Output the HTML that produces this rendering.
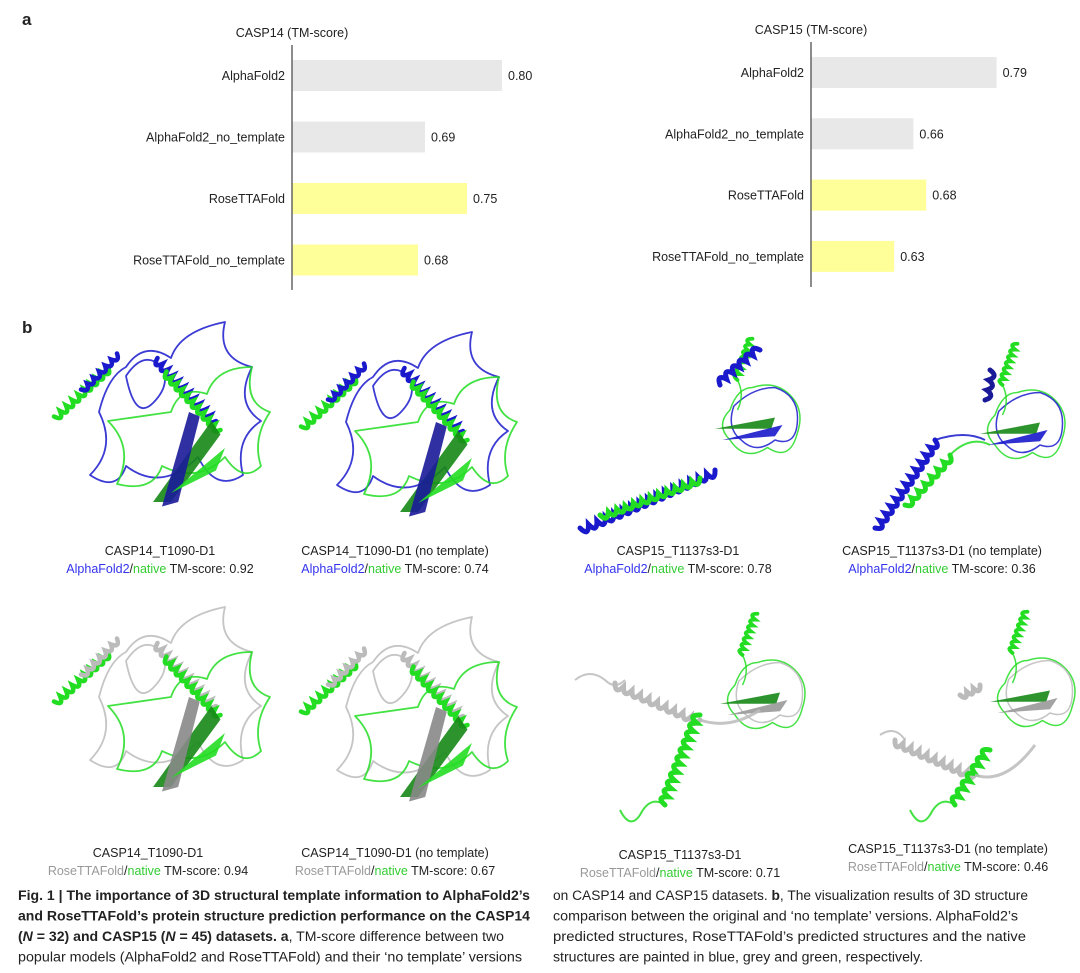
<!DOCTYPE html>
<html><head><meta charset="utf-8">
<style>
body{margin:0;background:#fff;font-family:"Liberation Sans",sans-serif;}
#root{position:relative;width:1080px;height:973px;overflow:hidden;background:#fff;}
.t{position:absolute;white-space:nowrap;color:#222;}
.lab{font-size:12.5px;line-height:18px;text-align:center;}
.b{color:#3333ee}.g{color:#33cc33}.gr{color:#999}
</style></head><body>
<div id="root">
<div class="t" style="left:22px;top:10px;font-weight:bold;font-size:17px">a</div>
<div class="t" style="left:22px;top:318px;font-weight:bold;font-size:17px">b</div>
<svg id="chart" width="1080" height="300" style="position:absolute;left:0;top:0"></svg>
<svg id="prot" width="1080" height="840" style="position:absolute;left:0;top:0"></svg>

<div class="t lab" style="left:40px;top:542px;width:240px">CASP14_T1090-D1<br><span class="b">AlphaFold2</span>/<span class="g">native</span> TM-score: 0.92</div>
<div class="t lab" style="left:275px;top:542px;width:240px">CASP14_T1090-D1 (no template)<br><span class="b">AlphaFold2</span>/<span class="g">native</span> TM-score: 0.74</div>
<div class="t lab" style="left:558px;top:542px;width:240px">CASP15_T1137s3-D1<br><span class="b">AlphaFold2</span>/<span class="g">native</span> TM-score: 0.78</div>
<div class="t lab" style="left:822px;top:542px;width:240px">CASP15_T1137s3-D1 (no template)<br><span class="b">AlphaFold2</span>/<span class="g">native</span> TM-score: 0.36</div>
<div class="t lab" style="left:28px;top:844px;width:240px">CASP14_T1090-D1<br><span class="gr">RoseTTAFold</span>/<span class="g">native</span> TM-score: 0.94</div>
<div class="t lab" style="left:275px;top:844px;width:240px">CASP14_T1090-D1 (no template)<br><span class="gr">RoseTTAFold</span>/<span class="g">native</span> TM-score: 0.67</div>
<div class="t lab" style="left:560px;top:846px;width:240px">CASP15_T1137s3-D1<br><span class="gr">RoseTTAFold</span>/<span class="g">native</span> TM-score: 0.71</div>
<div class="t lab" style="left:828px;top:840px;width:240px">CASP15_T1137s3-D1 (no template)<br><span class="gr">RoseTTAFold</span>/<span class="g">native</span> TM-score: 0.46</div>

<svg width="1080" height="100" style="position:absolute;left:0;top:878px" font-family="Liberation Sans" font-size="13.5" fill="#222">
<text x="18" y="22" textLength="512" lengthAdjust="spacingAndGlyphs" font-weight="bold">Fig. 1 | The importance of 3D structural template information to AlphaFold2’s</text>
<text x="18" y="42.5" textLength="512" lengthAdjust="spacingAndGlyphs" font-weight="bold">and RoseTTAFold’s protein structure prediction performance on the CASP14</text>
<text x="18" y="63" textLength="486" lengthAdjust="spacingAndGlyphs"><tspan font-weight="bold">(<tspan font-style="italic">N</tspan> = 32) and CASP15 (<tspan font-style="italic">N</tspan> = 45) datasets. a</tspan>, TM-score difference between two</text>
<text x="18" y="83.5" textLength="504" lengthAdjust="spacingAndGlyphs">popular models (AlphaFold2 and RoseTTAFold) and their ‘no template’ versions</text>
<text x="553" y="22" textLength="475" lengthAdjust="spacingAndGlyphs">on CASP14 and CASP15 datasets. <tspan font-weight="bold">b</tspan>, The visualization results of 3D structure</text>
<text x="553" y="42.5" textLength="465" lengthAdjust="spacingAndGlyphs">comparison between the original and ‘no template’ versions. AlphaFold2’s</text>
<text x="553" y="63" textLength="473" lengthAdjust="spacingAndGlyphs">predicted structures, RoseTTAFold’s predicted structures and the native</text>
<text x="553" y="83.5" textLength="370" lengthAdjust="spacingAndGlyphs">structures are painted in blue, grey and green, respectively.</text>
</svg>
</div>
<script>
const categories=["AlphaFold2","AlphaFold2_no_template","RoseTTAFold","RoseTTAFold_no_template"];
const casp14Values=[0.80,0.69,0.75,0.68];
const casp15Values=[0.79,0.66,0.68,0.63];
const valueLabels14=["0.80","0.69","0.75","0.68"];
const valueLabels15=["0.79","0.66","0.68","0.63"];
const NS="http://www.w3.org/2000/svg";
const svg=document.getElementById('chart');
function mk(tag,attrs,parent){const e=document.createElementNS(NS,tag);for(const k in attrs)e.setAttribute(k,attrs[k]);(parent||svg).appendChild(e);return e;}
function drawChart(id,title,vals,labs,axisX,top,bottom,scale,firstY,step){
  const g=mk('g',{});
  
  
  const x=v=>axisX+(v-0.5)*scale;
  const t=mk('text',{x:axisX,y:top-8,'text-anchor':'middle','font-size':12.5,fill:'#222','font-family':'Liberation Sans'},g);
  t.textContent=title;
  
  
  categories.forEach((c,i)=>{
    const y=firstY+i*step;
    const r=mk('rect',{x:axisX,y:y,width:x(vals[i])-axisX,height:31,fill:i<2?'#e8e8e8':'#ffff99'},g);
    
    
    const l=mk('text',{x:axisX-7,y:y+20,'text-anchor':'end','font-size':12.5,fill:'#222','font-family':'Liberation Sans'},g);
    l.textContent=c;
    
    
    const v=mk('text',{x:x(vals[i])+6,y:y+20,'font-size':12.5,fill:'#222','font-family':'Liberation Sans'},g);
    v.textContent=labs[i];
    
    
  });
  const a=mk('line',{x1:axisX,x2:axisX,y1:top,y2:bottom,stroke:'#666','stroke-width':1.5},g);
  
  
}
drawChart('casp14-chart','CASP14 (TM-score)',casp14Values,valueLabels14,292,45,290,700,60,61.5);
drawChart('casp15-chart','CASP15 (TM-score)',casp15Values,valueLabels15,811,42,287,640,57,61.3);

// decorative protein cartoons
const P=document.getElementById('prot');
let cur=P;
function pm(tag,attrs){const e=document.createElementNS(NS,tag);for(const k in attrs)e.setAttribute(k,attrs[k]);cur.appendChild(e);return e;}
function group(tr){const g=document.createElementNS(NS,'g');g.setAttribute('transform',tr);P.appendChild(g);cur=g;
  
  }
function helix(x1,y1,x2,y2,col,w){
  const n=Math.max(3,Math.round(Math.hypot(x2-x1,y2-y1)/9));
  const dx=(x2-x1)/n,dy=(y2-y1)/n,L=Math.hypot(dx,dy),nx=-dy/L*w,ny=dx/L*w;
  let d='M'+x1+' '+y1;
  for(let i=0;i<n;i++){const ax=x1+dx*i,ay=y1+dy*i;d+=` Q${ax+dx*0.5+nx} ${ay+dy*0.5+ny} ${ax+dx} ${ay+dy}`;}
  const e=pm('path',{d:d,fill:'none',stroke:col,'stroke-width':5,'stroke-linecap':'round'});
  
  
}
function loop(d,col,w){const e=pm('path',{d:d,fill:'none',stroke:col,'stroke-width':w||1.8,'stroke-linejoin':'round',opacity:0.85});
  
  }
function sheet(pts,col){const e=pm('polygon',{points:pts,fill:col,opacity:0.9});
  
  }
const G='#22dd22',DG='#168816',B='#1a1acc',GR='#bbbbbb';
function globular(ox,oy,c2){
  group(`translate(${ox},${oy}) scale(0.9)`);
  loop(`M60 100 q20 40 -10 70 q30 20 40 -10 q40 30 80 -10 q20 40 50 20 q-10 -40 20 -60 q-30 -20 -10 -60 q-40 -10 -30 -50 q-50 10 -60 40 q-30 -20 -50 10 q-20 10 -30 50z`,c2,2);
  loop(`M70 110 q30 30 10 70 q40 10 50 -20 q40 20 70 -10 q20 30 40 10 q-10 -30 10 -60 q-30 -10 -20 -50 q-40 0 -50 30 q-30 -10 -40 20z`,G,2);
  loop(`M90 60 q20 -30 40 -10 q10 20 -10 40 q-20 20 -30 -30z`,c2,2);
  helix(10,105,70,50,G,12);helix(40,75,80,35,c2,10);
  helix(125,40,190,110,c2,13);helix(135,55,195,120,G,12);
  sheet(`120,200 185,110 195,125 140,200`,DG);
  sheet(`130,205 160,100 172,105 148,200`,c2==B?'#1a1a99':'#888');
  sheet(`140,190 200,140 190,165`,G);
  cur=P;
}
globular(45,322,B);globular(292,332,B);
globular(45,607,GR);globular(292,617,GR);
function elong(ox,oy,c2){
  group(`translate(${ox},${oy}) scale(0.75)`);
  loop(`M40 100 q-20 20 0 40 q20 30 50 10 q30 20 40 -20 q10 -30 -10 -50 q-20 -20 -50 -10 q-20 0 -30 30z`,G,2);
  loop(`M45 95 q-10 30 10 45 q20 20 45 0 q30 10 30 -30 q0 -30 -30 -40 q-30 0 -55 25z`,c2,2);
  sheet(`20,125 100,110 95,125`,DG);
  sheet(`30,140 110,120 100,135`,c2==B?B:'#999');
  helix(70,5,50,60,G,12);
  loop(`M50 60 q10 20 0 40`,G,2);
  cur=P;
}
elong(700,335,B);elong(965,340,B);elong(705,610,GR);elong(975,608,GR);
helix(760,350,720,385,B,11);
helix(580,528,715,470,B,12);helix(600,515,700,478,G,10);
helix(875,528,935,440,B,11);helix(905,505,950,455,G,10);
loop('M935 440 q30 -10 50 0',B,2);loop('M950 455 q20 -20 40 -10',G,2);
helix(985,400,990,370,'#1a1a99',10);
loop('M575 680 q15 -12 30 0 q10 10 20 0',GR,2);helix(615,683,700,720,GR,11);helix(700,715,665,805,G,12);
loop('M665 805 q-15 -10 -25 10 q-10 15 -20 -5',G,2);loop('M700 720 q30 10 60 -10',GR,3);
loop('M880 735 q15 -10 25 5',GR,2);helix(895,740,975,775,GR,11);helix(990,750,955,805,G,12);
loop('M955 805 q-15 -10 -25 10 q-10 15 -20 -5',G,2);helix(960,695,980,685,GR,9);loop('M975 775 q30 10 60 -30',GR,3);
</script>
</body></html>
